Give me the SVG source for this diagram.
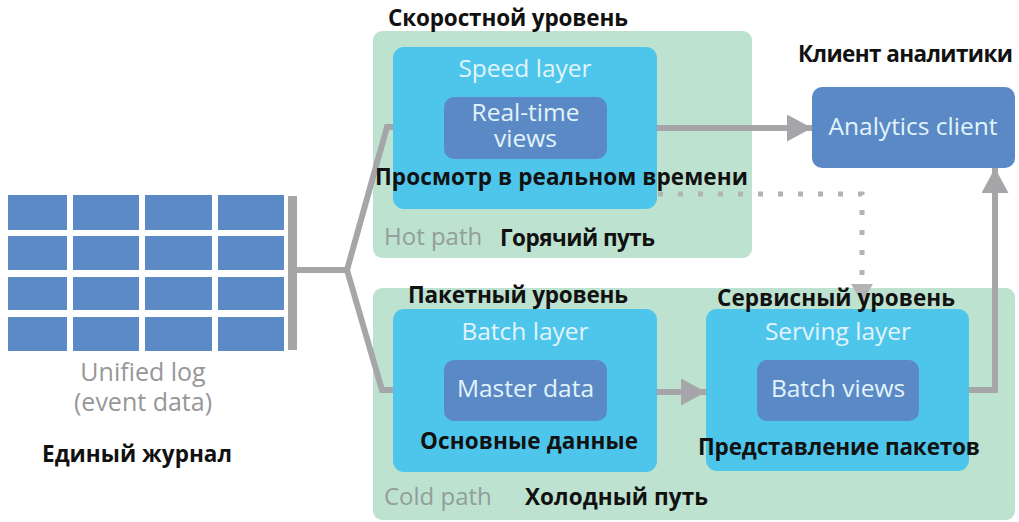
<svg xmlns="http://www.w3.org/2000/svg" width="1019" height="522" viewBox="0 0 1019 522">
<style>
  .container { fill: #bde2d0; }
  .layer { fill: #4ec6ec; }
  .inner { fill: #5b89c6; }
  .cell { fill: #5b8ac6; }
  .conn { fill: none; stroke: #a6a6a9; stroke-width: 6; stroke-linejoin: miter; }
  .dot { fill: none; stroke: #b3b3b3; stroke-width: 5; stroke-dasharray: 5 15; }
  .en { font-family: "Open Sans", "Noto Sans", sans-serif; font-size: 24.5px; fill: #e2f4fb; text-anchor: middle; }
  .path { font-family: "Open Sans", "Noto Sans", sans-serif; font-size: 24px; fill: #929e98; }
  .log { font-family: "Open Sans", "Noto Sans", sans-serif; font-size: 25px; fill: #979797; text-anchor: middle; }
  .ru { font-family: "Open Sans", "Noto Sans", sans-serif; font-size: 22.5px; font-weight: bold; fill: #111111; }
</style>
<defs>
  <marker id="arrow" markerUnits="userSpaceOnUse" markerWidth="26" markerHeight="28" refX="25" refY="13.5" orient="auto">
    <path d="M0,0 L25,13.5 L0,27 Z" fill="#a6a6a9"/>
  </marker>
  <marker id="arrowDot" markerUnits="userSpaceOnUse" markerWidth="20" markerHeight="24" refX="18" refY="11" orient="auto">
    <path d="M0,0 L18,11 L0,22 Z" fill="#b3b3b3"/>
  </marker>
</defs>

<g id="unified-log">
  <rect class="cell" x="8" y="195" width="59" height="35"/>
  <rect class="cell" x="73" y="195" width="66" height="35"/>
  <rect class="cell" x="145" y="195" width="67" height="35"/>
  <rect class="cell" x="218" y="195" width="66" height="35"/>
  <rect class="cell" x="8" y="236" width="59" height="34"/>
  <rect class="cell" x="73" y="236" width="66" height="34"/>
  <rect class="cell" x="145" y="236" width="67" height="34"/>
  <rect class="cell" x="218" y="236" width="66" height="34"/>
  <rect class="cell" x="8" y="277" width="59" height="33"/>
  <rect class="cell" x="73" y="277" width="66" height="33"/>
  <rect class="cell" x="145" y="277" width="67" height="33"/>
  <rect class="cell" x="218" y="277" width="66" height="33"/>
  <rect class="cell" x="8" y="317" width="59" height="34"/>
  <rect class="cell" x="73" y="317" width="66" height="34"/>
  <rect class="cell" x="145" y="317" width="67" height="34"/>
  <rect class="cell" x="218" y="317" width="66" height="34"/>
  <rect x="288" y="196" width="9" height="154" fill="#a6a6a9"/>
  <text class="log" x="143" y="381">Unified log</text>
  <text class="log" x="143" y="411">(event data)</text>
  <text class="ru" x="42" y="462" textLength="190">Единый журнал</text>
</g>

<g id="hot-path">
  <rect class="container" x="373" y="31" width="379" height="227" rx="9"/>
</g>
<g id="cold-path">
  <rect class="container" x="373" y="288" width="642" height="232" rx="9"/>
</g>

<g id="connectors">
  <path class="conn" d="M297,270 H347 L387,127 H396"/>
  <path class="conn" d="M347,270 L382,390 H396"/>
  <path class="conn" d="M657,128 H812" marker-end="url(#arrow)"/>
  <path class="conn" d="M657,392 H706" marker-end="url(#arrow)"/>
  <path class="conn" d="M969,390 H995 V168" marker-end="url(#arrow)"/>
  <path class="dot" d="M658,194 H862 V302" marker-end="url(#arrowDot)"/>
</g>

<g id="speed-layer">
  <rect class="layer" x="393" y="47" width="264" height="162" rx="11"/>
  <text class="en" x="525" y="77">Speed layer</text>
</g>
<g id="real-time-views">
  <rect class="inner" x="444" y="97" width="163" height="62" rx="10"/>
  <text class="en" x="525.5" y="121">Real-time</text>
  <text class="en" x="525.5" y="147">views</text>
</g>
<g id="analytics-client">
  <rect class="inner" x="812" y="87" width="203" height="81" rx="10"/>
  <text class="en" x="913" y="135">Analytics client</text>
</g>
<g id="batch-layer">
  <rect class="layer" x="393" y="309" width="264" height="163" rx="11"/>
  <text class="en" x="525" y="340">Batch layer</text>
</g>
<g id="master-data">
  <rect class="inner" x="444" y="360" width="163" height="61" rx="10"/>
  <text class="en" x="525.5" y="397">Master data</text>
</g>
<g id="serving-layer">
  <rect class="layer" x="706" y="309" width="263" height="162" rx="11"/>
  <text class="en" x="838" y="340">Serving layer</text>
</g>
<g id="batch-views">
  <rect class="inner" x="757" y="360" width="162" height="61" rx="10"/>
  <text class="en" x="838" y="397">Batch views</text>
</g>

<g id="labels">
  <text class="ru" x="388" y="26" textLength="240">Скоростной уровень</text>
  <text class="ru" x="375" y="185" textLength="373">Просмотр в реальном времени</text>
  <text class="path" x="384" y="245">Hot path</text>
  <text class="ru" x="500" y="246" textLength="155">Горячий путь</text>
  <text class="ru" x="798" y="62" textLength="215">Клиент аналитики</text>
  <text class="ru" x="408" y="303" textLength="220">Пакетный уровень</text>
  <text class="ru" x="420" y="449" textLength="218">Основные данные</text>
  <text class="path" x="384" y="505">Cold path</text>
  <text class="ru" x="525" y="505" textLength="183">Холодный путь</text>
  <text class="ru" x="717" y="306" textLength="238">Сервисный уровень</text>
  <text class="ru" x="698" y="455" textLength="282">Представление пакетов</text>
</g>
</svg>
